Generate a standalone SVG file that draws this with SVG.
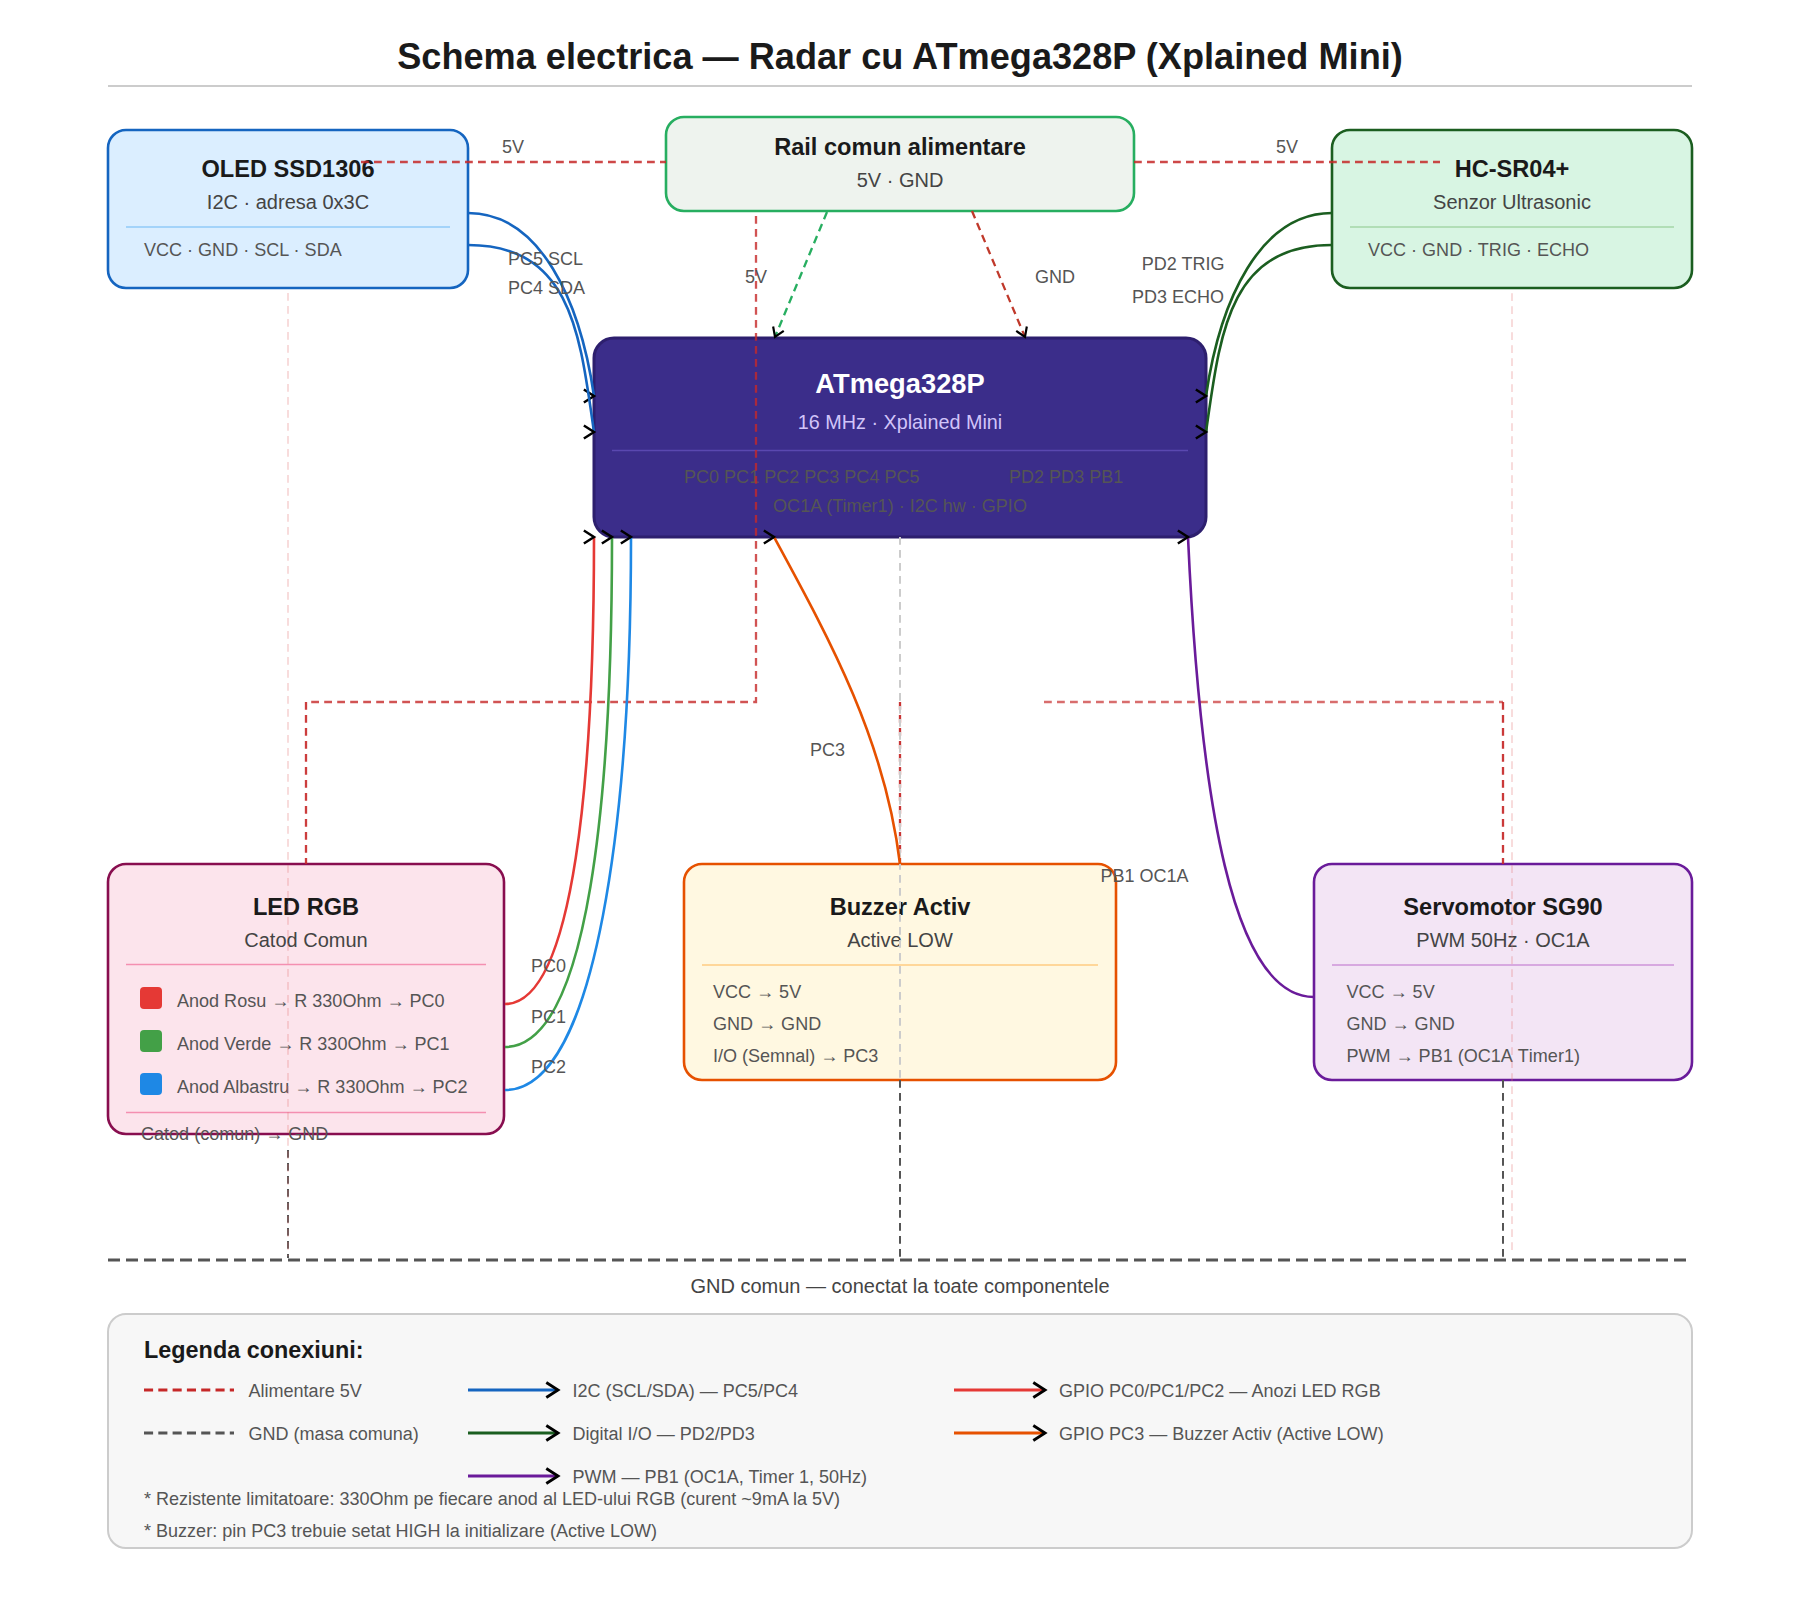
<svg xmlns="http://www.w3.org/2000/svg" width="1800" height="1620" viewBox="0 0 1800 1620">
<style>
text{font-family:"Liberation Sans",Arial,sans-serif}
.box{stroke-width:2.6}
.t{font-size:23.6px;font-weight:700;fill:#1a1a1a;text-anchor:middle}
.s{font-size:20px;fill:#444;text-anchor:middle}
.d{font-size:18.05px;fill:#555}
.l{font-size:18px;fill:#555}
.c{fill:none;stroke-width:2.6}
.p{fill:none;stroke:#c62828;stroke-width:2.3;stroke-dasharray:7.8 5.2}
.g{fill:none;stroke:#555;stroke-width:2;stroke-dasharray:7.8 5.2}
.pale{fill:none;stroke:#e57373;stroke-width:2;stroke-dasharray:7.8 5.2;opacity:.25}
.nk{font-kerning:none}
</style>
<defs>
<marker id="ar" markerUnits="strokeWidth" markerWidth="6" markerHeight="7" refX="3.9" refY="3" orient="0" viewBox="0 0 6 6" overflow="visible"><path d="M0 0.5L3.9 3L0 5.5" fill="none" stroke="#000" stroke-width=".95"/></marker>
<marker id="aa" markerUnits="strokeWidth" markerWidth="6" markerHeight="7" refX="3.9" refY="3" orient="auto" viewBox="0 0 6 6" overflow="visible"><path d="M0 0.5L3.9 3L0 5.5" fill="none" stroke="#000" stroke-width=".95"/></marker>
</defs>
<rect width="1800" height="1620" fill="#fff"/>
<text x="900" y="69" font-size="36.15" font-weight="700" fill="#1a1a1a" text-anchor="middle">Schema electrica — Radar cu ATmega328P (Xplained Mini)</text>
<line x1="108" y1="86" x2="1692" y2="86" stroke="#ccc" stroke-width="2"/>

<g id="oled">
<rect class="box" x="108" y="130" width="360" height="158" rx="18" fill="#dbeeff" stroke="#1565c0"/>
<text class="t" x="288" y="177">OLED SSD1306</text>
<text class="s" x="288" y="209">I2C · adresa 0x3C</text>
<line x1="126" y1="227" x2="450" y2="227" stroke="#90caf9" stroke-width="1.4"/>
<text class="d" x="144" y="256">VCC · GND · SCL · SDA</text>
</g>
<g id="rail">
<rect class="box" x="666" y="117" width="468" height="94" rx="18" fill="#eef3ee" stroke="#27ae60"/>
<text class="t" x="900" y="155">Rail comun alimentare</text>
<text class="s" x="900" y="187">5V · GND</text>
</g>
<g id="hcsr04">
<rect class="box" x="1332" y="130" width="360" height="158" rx="18" fill="#d8f5e3" stroke="#1b5e20"/>
<text class="t" x="1512" y="177">HC-SR04+</text>
<text class="s" x="1512" y="209">Senzor Ultrasonic</text>
<line x1="1350" y1="227" x2="1674" y2="227" stroke="#a5d6a7" stroke-width="1.4"/>
<text class="d" x="1368" y="256">VCC · GND · TRIG · ECHO</text>
</g>
<g id="atmega">
<rect x="594" y="338" width="612" height="199" rx="20" fill="#3b2d8a" stroke="#2d1f6e" stroke-width="3"/>
<text x="900" y="393" font-size="27.3" font-weight="700" fill="#fff" text-anchor="middle">ATmega328P</text>
<text x="900" y="428.5" font-size="19.8" fill="#d1c4f9" text-anchor="middle">16 MHz · Xplained Mini</text>
<line x1="612" y1="450.5" x2="1188" y2="450.5" stroke="#5a48b0" stroke-width="1.4"/>
<text class="d" x="684" y="483">PC0 PC1 PC2 PC3 PC4 PC5</text>
<text class="d" x="1009" y="483">PD2 PD3 PB1</text>
<text class="d" x="900" y="512" text-anchor="middle">OC1A (Timer1) · I2C hw · GPIO</text>
</g>
<g id="led">
<rect class="box" x="108" y="864" width="396" height="270" rx="18" fill="#fce4ec" stroke="#880e4f"/>
<text class="t" x="306" y="915">LED RGB</text>
<text class="s" x="306" y="947">Catod Comun</text>
<line x1="126" y1="964.5" x2="486" y2="964.5" stroke="#f48fb1" stroke-width="1.4"/>
<rect x="140" y="987" width="22" height="22" rx="4" fill="#e53935"/>
<text class="d" x="177" y="1006.5">Anod Rosu → R 330Ohm → PC0</text>
<rect x="140" y="1030" width="22" height="22" rx="4" fill="#43a047"/>
<text class="d" x="177" y="1049.5">Anod Verde → R 330Ohm → PC1</text>
<rect x="140" y="1073" width="22" height="22" rx="4" fill="#1e88e5"/>
<text class="d" x="177" y="1092.5">Anod Albastru → R 330Ohm → PC2</text>
<line x1="126" y1="1112.5" x2="486" y2="1112.5" stroke="#f48fb1" stroke-width="1.4"/>
<text class="d" x="141" y="1140">Catod (comun) → GND</text>
</g>
<g id="buzzer">
<rect class="box" x="684" y="864" width="432" height="216" rx="18" fill="#fff8e1" stroke="#e65100"/>
<text class="t" x="900" y="915">Buzzer Activ</text>
<text class="s" x="900" y="947">Active LOW</text>
<line x1="702" y1="965" x2="1098" y2="965" stroke="#ffcc80" stroke-width="1.4"/>
<text class="d" x="713" y="997.5">VCC → 5V</text>
<text class="d" x="713" y="1029.5">GND → GND</text>
<text class="d" x="713" y="1062">I/O (Semnal) → PC3</text>
</g>
<g id="servo">
<rect class="box" x="1314" y="864" width="378" height="216" rx="18" fill="#f3e5f5" stroke="#6a1b9a"/>
<text class="t" x="1503" y="915">Servomotor SG90</text>
<text class="s" x="1503" y="947">PWM 50Hz · OC1A</text>
<line x1="1332" y1="965" x2="1674" y2="965" stroke="#ce93d8" stroke-width="1.4"/>
<text class="d" x="1346.5" y="997.5">VCC → 5V</text>
<text class="d" x="1346.5" y="1029.5">GND → GND</text>
<text class="d nk" x="1346.5" y="1062">PWM → PB1 (OC1A Timer1)</text>
</g>

<g id="connectors">
<path class="p" opacity=".85" d="M361 162H666"/>
<path class="p" opacity=".85" d="M1134 162H1440"/>
<path class="p" opacity=".8" d="M756 216V702H306"/>
<path class="p" opacity=".9" d="M306 702V864"/>
<path class="p" opacity=".95" d="M900 702V864"/>
<path class="p" opacity=".68" d="M1044 702H1503"/>
<path class="p" opacity=".92" d="M1503 702V864"/>
<path d="M827 212L775 337" fill="none" stroke="#27ae60" stroke-width="2.3" stroke-dasharray="7.8 5.2" marker-end="url(#aa)"/>
<path d="M972 211L1025 337" fill="none" stroke="#c0392b" stroke-width="2.3" stroke-dasharray="7.8 5.2" marker-end="url(#aa)"/>
<path class="g" d="M288 1150V1258"/>
<path class="g" d="M900 1080V1258"/>
<path class="g" d="M1503 1080V1258"/>
<path class="pale" d="M288 293V1256"/>
<path class="pale" d="M1512 293.2V1250"/>
<path d="M900 537V1080" fill="none" stroke="#ccc" stroke-width="2" stroke-dasharray="7.8 5.2"/>
<path d="M108 1260H1686" fill="none" stroke="#555" stroke-width="3" stroke-dasharray="12 6"/>
<path class="c" stroke="#1565c0" marker-end="url(#ar)" d="M468 213C540 213 580 300 594 396"/>
<path class="c" stroke="#1565c0" marker-end="url(#ar)" d="M468 245C572 245 580 335 594 432"/>
<path class="c" stroke="#1b5e20" marker-end="url(#ar)" d="M1332 213C1260 213 1220 300 1206 396"/>
<path class="c" stroke="#1b5e20" marker-end="url(#ar)" d="M1332 245C1228 245 1220 335 1206 432"/>
<path class="c" stroke="#e53935" marker-end="url(#ar)" d="M505 1004C575 1004 594 770 594 537"/>
<path class="c" stroke="#43a047" marker-end="url(#ar)" d="M505 1047C590 1047 612 790 612 537"/>
<path class="c" stroke="#1e88e5" marker-end="url(#ar)" d="M505 1090C598 1090 631 810 631 537"/>
<path class="c" stroke="#e65100" marker-end="url(#ar)" d="M900 864C885 740 830 640 774 537"/>
<path class="c" stroke="#6a1b9a" marker-end="url(#ar)" d="M1314 997C1232 997 1200 800 1188 537"/>
<g id="connector-labels">
<text class="l" x="502" y="153">5V</text>
<text class="l" x="1276" y="153">5V</text>
<text class="l" x="508" y="265">PC5 SCL</text>
<text class="l" x="508" y="294">PC4 SDA</text>
<text class="l" x="1224.5" y="270" text-anchor="end">PD2 TRIG</text>
<text class="l" x="1224" y="303" text-anchor="end">PD3 ECHO</text>
<text class="l" x="745" y="283">5V</text>
<text class="l" x="1035" y="283">GND</text>
<text class="l" x="531" y="972">PC0</text>
<text class="l" x="531" y="1023">PC1</text>
<text class="l" x="531" y="1073">PC2</text>
<text class="l" x="810" y="756">PC3</text>
<text class="l" x="1100.5" y="882">PB1 OC1A</text>
</g>
</g>
<text x="900" y="1293" font-size="20" fill="#444" text-anchor="middle">GND comun — conectat la toate componentele</text>

<g id="legend">
<rect x="108" y="1314" width="1584" height="234" rx="18" fill="#f7f7f7" stroke="#ccc" stroke-width="2"/>
<text x="144" y="1357.5" font-size="23.4" font-weight="700" fill="#1a1a1a">Legenda conexiuni:</text>
<path d="M144 1390H234" fill="none" stroke="#c62828" stroke-width="3" stroke-dasharray="9.1 5.2"/>
<text class="d" x="248.5" y="1397">Alimentare 5V</text>
<path d="M144 1433H234" fill="none" stroke="#555" stroke-width="3" stroke-dasharray="9.1 5.2"/>
<text class="d" x="248.5" y="1440">GND (masa comuna)</text>
<path d="M468 1390H558" fill="none" stroke="#1565c0" stroke-width="3" marker-end="url(#ar)"/>
<text class="d" x="572.5" y="1397">I2C (SCL/SDA) — PC5/PC4</text>
<path d="M468 1433H558" fill="none" stroke="#1b5e20" stroke-width="3" marker-end="url(#ar)"/>
<text class="d" x="572.5" y="1440">Digital I/O — PD2/PD3</text>
<path d="M468 1476H558" fill="none" stroke="#6a1b9a" stroke-width="3" marker-end="url(#ar)"/>
<text class="d" x="572.5" y="1483">PWM — PB1 (OC1A, Timer 1, 50Hz)</text>
<path d="M954 1390H1045" fill="none" stroke="#e53935" stroke-width="3" marker-end="url(#ar)"/>
<text class="d" x="1059" y="1397">GPIO PC0/PC1/PC2 — Anozi LED RGB</text>
<path d="M954 1433H1045" fill="none" stroke="#e65100" stroke-width="3" marker-end="url(#ar)"/>
<text class="d" x="1059" y="1440">GPIO PC3 — Buzzer Activ (Active LOW)</text>
<text class="d" x="144" y="1505">* Rezistente limitatoare: 330Ohm pe fiecare anod al LED-ului RGB (curent ~9mA la 5V)</text>
<text class="d" x="144" y="1537">* Buzzer: pin PC3 trebuie setat HIGH la initializare (Active LOW)</text>
</g>
</svg>
